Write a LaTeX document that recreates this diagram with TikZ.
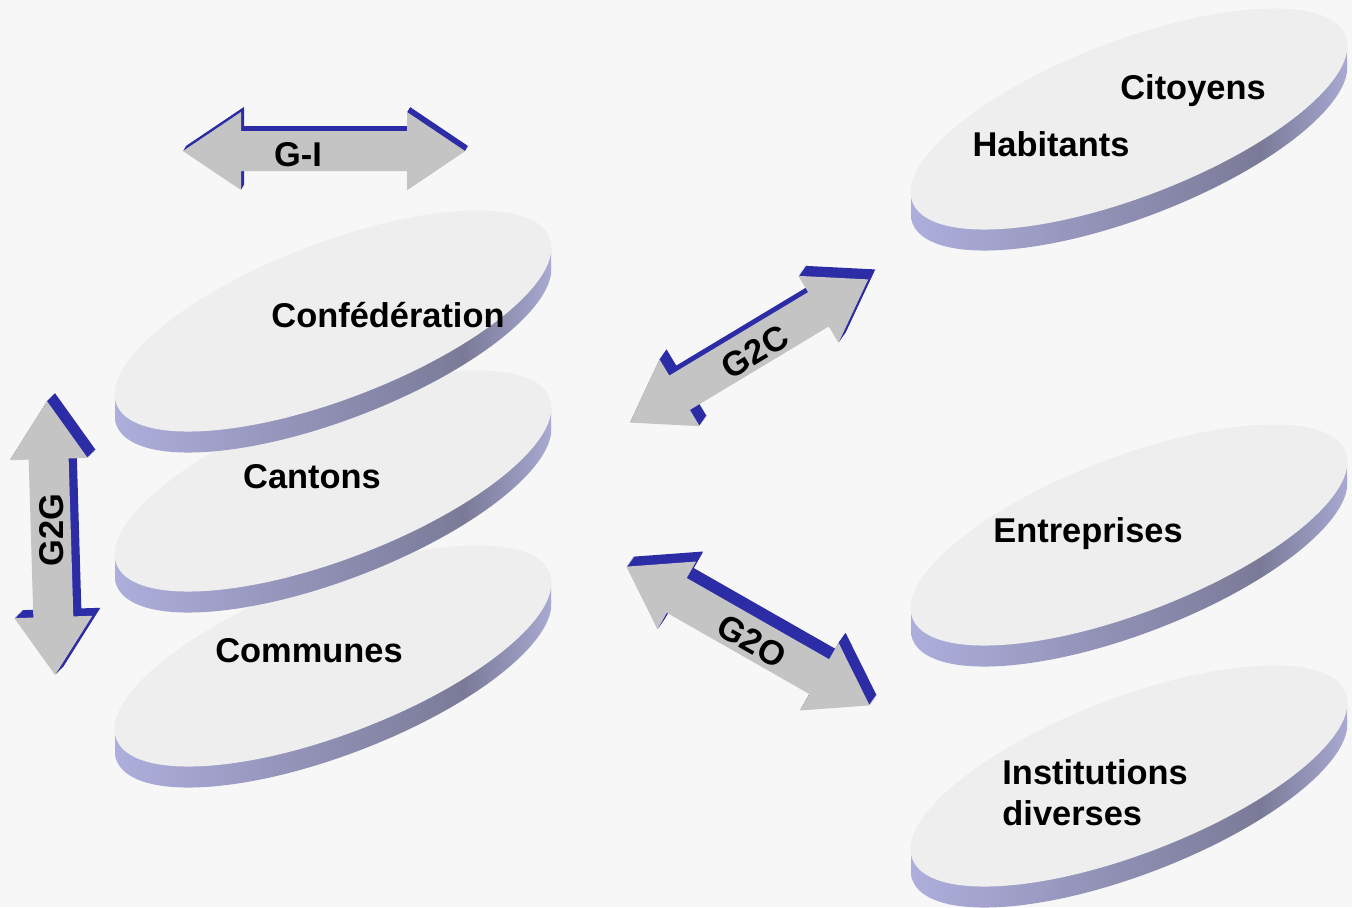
\documentclass[tikz,border=0pt]{standalone}
\usepackage{fontspec}
\setmainfont{Liberation Sans}
\usepackage{xcolor}
\usepackage{tikz}

\definecolor{bggray}{HTML}{F7F7F7}
\definecolor{topgray}{HTML}{EEEEEE}
\definecolor{rimlight}{HTML}{AEAEDC}
\definecolor{rimdark}{HTML}{7A7A98}
\definecolor{rimedge}{HTML}{A9A9D2}
\definecolor{arrowgray}{HTML}{C4C4C4}
\definecolor{arrowblue}{HTML}{2C2CA6}

\pgfdeclarehorizontalshading{rim}{100bp}{color(0bp)=(rimlight); color(25bp)=(rimlight); color(65bp)=(rimdark); color(75bp)=(rimedge); color(100bp)=(rimedge)}

\tikzset{
  disktop/.style={fill=topgray},
  diskrim/.style={shading=rim},
  arrowface/.style={fill=arrowgray},
  arrowside/.style={fill=arrowblue},
  disklabel/.style={font=\bfseries\fontsize{17.2}{20.6}\selectfont, inner sep=0pt},
  arrowlabel/.style={font=\bfseries\fontsize{17.2}{20.6}\selectfont, inner sep=0pt}
}

% disk: {x}{y}
\newcommand{\disk}[2]{%
  \begin{scope}
    \clip (#1-218,#2+73) -- (#1-218,#2+94) -- (#1+218,#2-52) -- (#1+218,#2-73) -- cycle;
    \shade[diskrim] (#1-218,#2-112) rectangle (#1+218,#2+133);
  \end{scope}
  \begin{scope}
    \clip (#1,#2+21) ellipse [x radius=232, y radius=78, rotate=21];
    \shade[diskrim] (#1-218,#2-112) rectangle (#1+218,#2+133);
  \end{scope}
  \fill[disktop] (#1,#2) ellipse [x radius=232, y radius=78, rotate=21];
}

% arrow: {x}{y}{angle}{half length}{depth x}{depth y}
\newcommand{\arrowpath}[1]{(-#1,0) -- (-#1+58,39) -- (-#1+58,20) -- (#1-58,20) -- (#1-58,39) -- (#1,0)
  -- (#1-58,-39) -- (#1-58,-20) -- (-#1+58,-20) -- (-#1+58,-39) -- cycle}
\newcommand{\blockarrow}[6]{%
  \foreach \t in {1,...,10}{
    \fill[arrowside, shift={({#1+\t*(#5)/10},{#2+\t*(#6)/10})}, rotate=#3] \arrowpath{#4};
  }
  \fill[arrowface, shift={(#1,#2)}, rotate=#3] \arrowpath{#4};
}

\begin{document}
\begin{tikzpicture}[x=0.5pt, y=-0.5pt]
  \useasboundingbox (0,0) rectangle (1352,907);
  \fill[bggray] (0,0) rectangle (1352,907);

  % Define disks
  \disk{333}{656}
  \disk{333}{481}
  \disk{333}{321}
  \disk{1129}{119}
  \disk{1129}{535}
  \disk{1129}{776}

  \node[disklabel, anchor=base] (conf) at (388,327) {Confédération};
  \node[disklabel, anchor=base] (cantons) at (312,488) {Cantons};
  \node[disklabel, anchor=base] (communes) at (309,662) {Communes};
  \node[disklabel, anchor=base] (citoyens) at (1193,99) {Citoyens};
  \node[disklabel, anchor=base] (habitants) at (1051,156) {Habitants};
  \node[disklabel, anchor=base] (entreprises) at (1088,542) {Entreprises};
  \node[disklabel, anchor=north west, align=left] (institutions) at (1002,759) {Institutions\\diverses};

  % Define arrows
  \blockarrow{324}{151}{0}{141}{3}{-5}
  \blockarrow{51}{538}{91.7}{137}{8}{-8}
  \blockarrow{749}{351}{31}{139}{7}{-10}
  \blockarrow{748}{636}{-29.7}{140}{7}{-10}

  \node[arrowlabel] (gi) at (298,155) {G-I};
  \node[arrowlabel, rotate=90] (g2g) at (52,530) {G2G};
  \node[arrowlabel, rotate=31] (g2c) at (755,352) {G2C};
  \node[arrowlabel, rotate=-29.7] (g2o) at (752,641) {G2O};
\end{tikzpicture}
\end{document}
